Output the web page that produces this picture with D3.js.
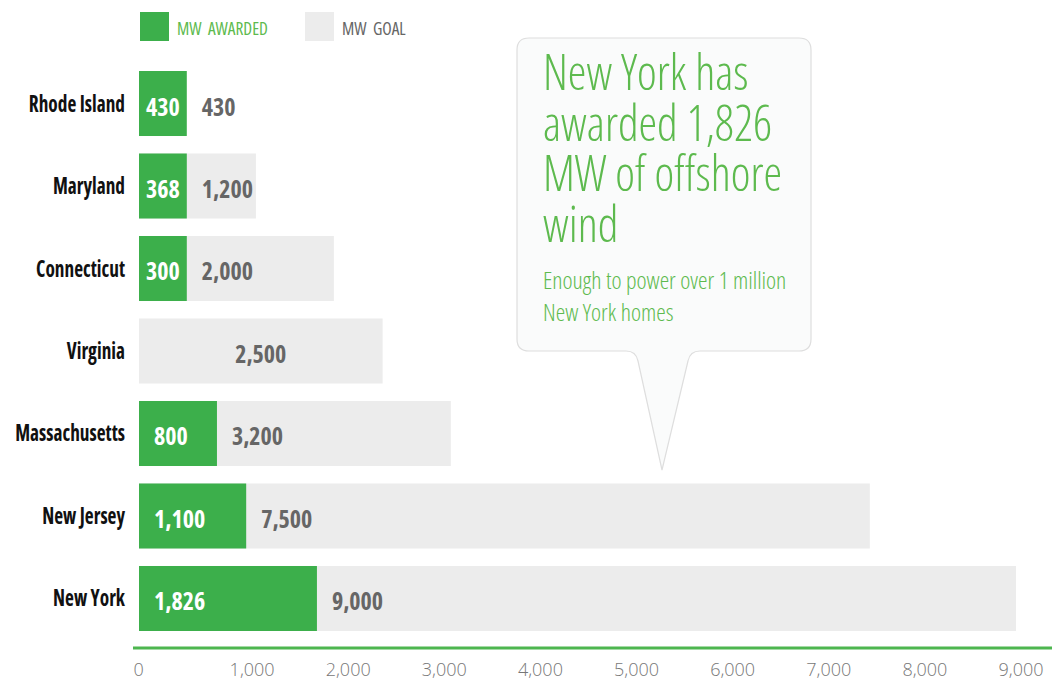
<!DOCTYPE html>
<html>
<head>
<meta charset="utf-8">
<script src="https://cdn.jsdelivr.net/npm/d3@7"></script>
<style>
  body { margin: 0; background: #fff; }
  svg { display: block; }
  .cond { font-family: "Open Sans", sans-serif; font-stretch: condensed; }
</style>
</head>
<body>
<div id="chart"></div>
<script>
const states = ["Rhode Island", "Maryland", "Connecticut", "Virginia", "Massachusetts", "New Jersey", "New York"];
const awarded = [430, 368, 300, 0, 800, 1100, 1826];
const goals = [430, 1200, 2000, 2500, 3200, 7500, 9000];
const axisTicks = [0, 1000, 2000, 3000, 4000, 5000, 6000, 7000, 8000, 9000];
const legendLabels = ["MW AWARDED", "MW GOAL"];
const calloutTitle = ["New York has", "awarded 1,826", "MW of offshore", "wind"];
const calloutSub = ["Enough to power over 1 million", "New York homes"];

const width = 1052;
const height = 680;
const green = "#3caf4b";
const textGreen = "#5dba4e";
const gray = "#ececec";

const fmt = d3.format(",");

const svg = d3.select("#chart")
  .append("svg")
  .attr("width", width)
  .attr("height", height);

const x = d3.scaleLinear().domain([0, 9000]).range([139, 1016]);
const xAxisScale = d3.scaleLinear().domain([0, 9000]).range([133, 998]);

const y = d3.scaleBand()
  .domain(states)
  .range([71, 631])
  .paddingInner(0.212)
  .paddingOuter(0);

const rows = states.map((s, i) => ({ state: s, awarded: awarded[i], goal: goals[i] }));

// legend
const legend = svg.append("g");
[green, gray].forEach((c, i) => {
  const lx = 140 + i * 165;
  legend.append("rect")
    .attr("x", lx).attr("y", 12)
    .attr("width", 29).attr("height", 29)
    .attr("fill", c);
  legend.append("text")
    .attr("class", "cond")
    .attr("transform", `translate(${lx + 37},35) scale(0.96,1)`)
    .attr("font-size", "18px")
    .attr("font-weight", 400)
    .attr("fill", i === 0 ? textGreen : "#666")
    .attr("xml:space", "preserve")
    .text(legendLabels[i].replace(" ", "  "));
});

// callout
const bx0 = 517, bx1 = 811, by0 = 38, by1 = 351, r = 12;
const callout = d3.path();
callout.moveTo(bx0 + r, by0);
callout.lineTo(bx1 - r, by0);
callout.quadraticCurveTo(bx1, by0, bx1, by0 + r);
callout.lineTo(bx1, by1 - r);
callout.quadraticCurveTo(bx1, by1, bx1 - r, by1);
callout.lineTo(700, by1);
callout.quadraticCurveTo(690, by1, 688, 361);
callout.lineTo(662, 470);
callout.lineTo(638, 361);
callout.quadraticCurveTo(636, by1, 626, by1);
callout.lineTo(bx0 + r, by1);
callout.quadraticCurveTo(bx0, by1, bx0, by1 - r);
callout.lineTo(bx0, by0 + r);
callout.quadraticCurveTo(bx0, by0, bx0 + r, by0);
callout.closePath();

svg.append("path")
  .attr("d", callout.toString())
  .attr("fill", "#fafbfb")
  .attr("stroke", "#dedede")
  .attr("stroke-width", 1.2);

svg.append("g").selectAll("text")
  .data(calloutTitle)
  .join("text")
  .attr("class", "cond")
  .attr("transform", (d, i) => `translate(543,${90 + i * 50.5}) scale(0.96,1)`)
  .attr("font-size", "49px")
  .attr("font-weight", 300)
  .attr("fill", textGreen)
  .text(d => d);

svg.append("g").selectAll("text")
  .data(calloutSub)
  .join("text")
  .attr("class", "cond")
  .attr("transform", (d, i) => `translate(543,${289 + i * 32})`)
  .attr("font-size", "24px")
  .attr("font-weight", 300)
  .attr("fill", textGreen)
  .text(d => d);

// bars
const row = svg.append("g").selectAll("g")
  .data(rows)
  .join("g")
  .attr("transform", d => `translate(0,${y(d.state)})`);

const bh = y.bandwidth();

row.append("rect")
  .attr("x", x(0))
  .attr("width", d => x(d.goal) - x(0))
  .attr("height", bh)
  .attr("fill", gray);

row.append("text")
  .attr("class", "cond")
  .attr("text-anchor", "end")
  .attr("transform", `translate(125,${bh / 2 + 8}) scale(0.84,1)`)
  .attr("font-size", "23px")
  .attr("font-weight", "bold")
  .attr("fill", "#111")
  .text(d => d.state);

const valueLabel = (g, txt, fill) => g.append("text")
  .attr("class", "cond")
  .attr("font-size", "24px")
  .attr("font-weight", "bold")
  .attr("fill", fill)
  .attr("y", bh / 2 + 12)
  .text(txt);

row.each(function(d) {
  const g = d3.select(this);
  if (d.awarded > 0) {
    const lbl = valueLabel(g, fmt(d.awarded), "#fff");
    const tw = lbl.node().getComputedTextLength();
    const w = Math.max(x(d.awarded) - x(0), tw + 14);
    g.insert("rect", "text")
      .attr("x", x(0))
      .attr("width", w)
      .attr("height", bh)
      .attr("fill", green);
    if (w > tw + 30) {
      lbl.attr("x", x(0) + 15);
    } else {
      lbl.attr("x", x(0) + w / 2).attr("text-anchor", "middle");
    }
    valueLabel(g, fmt(d.goal), "#666").attr("x", x(0) + w + 15);
  } else {
    valueLabel(g, fmt(d.goal), "#666")
      .attr("text-anchor", "middle")
      .attr("x", (x(0) + x(d.goal)) / 2);
  }
});

// axis
const axis = svg.append("g")
  .attr("transform", "translate(0,648)")
  .call(d3.axisBottom(xAxisScale).tickValues(axisTicks).tickSize(0).tickPadding(0).tickFormat(fmt));

axis.select(".domain").remove();
axis.selectAll("text")
  .attr("text-anchor", "start")
  .attr("dy", 0)
  .attr("y", 28)
  .attr("font-family", "'Open Sans', sans-serif")
  .attr("font-weight", 300)
  .attr("font-size", "18px")
  .attr("fill", "#777");

svg.append("line")
  .attr("x1", xAxisScale(0))
  .attr("x2", width)
  .attr("y1", 648)
  .attr("y2", 648)
  .attr("stroke", "#4db64f")
  .attr("stroke-width", 3);
</script>
</body>
</html>
